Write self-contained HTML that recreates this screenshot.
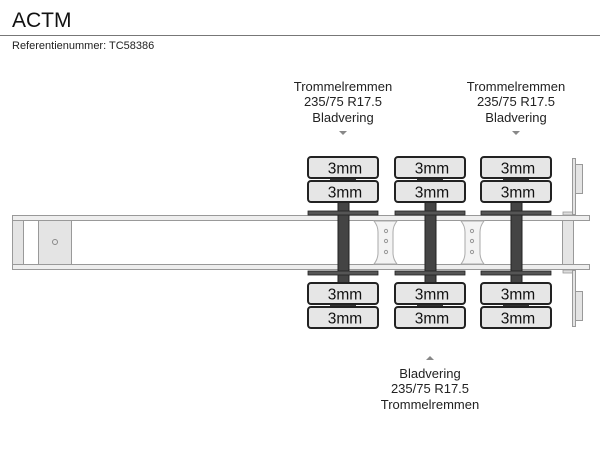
<!DOCTYPE html>
<html><head><meta charset="utf-8"><style>
body{margin:0;background:#fff;}
svg{display:block;font-family:"Liberation Sans",Arial,sans-serif;}
</style></head><body>
<svg width="600" height="450" viewBox="0 0 600 450" xmlns="http://www.w3.org/2000/svg">
<text x="12" y="27" font-size="21" fill="#111">ACTM</text>
<line x1="0" y1="35.5" x2="600" y2="35.5" stroke="#777" stroke-width="1"/>
<text x="12" y="49" font-size="11" fill="#222">Referentienummer: TC58386</text>

<g font-size="13" fill="#222" text-anchor="middle">
<text x="343" y="91">Trommelremmen</text>
<text x="343" y="106">235/75 R17.5</text>
<text x="343" y="122">Bladvering</text>
<text x="516" y="91">Trommelremmen</text>
<text x="516" y="106">235/75 R17.5</text>
<text x="516" y="122">Bladvering</text>
<text x="430" y="378">Bladvering</text>
<text x="430" y="393">235/75 R17.5</text>
<text x="430" y="409">Trommelremmen</text>
</g>
<polygon points="339,131 347,131 343,135" fill="#888"/>
<polygon points="512,131 520,131 516,135" fill="#888"/>
<polygon points="426,360 434,360 430,356" fill="#888"/>

<!-- frame -->
<rect x="12.5" y="215.5" width="577" height="5" fill="#eee" stroke="#999"/>
<rect x="12.5" y="264.5" width="577" height="5" fill="#eee" stroke="#999"/>
<rect x="12.5" y="220.5" width="11" height="44" fill="#e4e4e4" stroke="#999"/>
<rect x="38.5" y="220.5" width="33" height="44" fill="#e4e4e4" stroke="#999"/>
<circle cx="55" cy="242" r="2.5" fill="none" stroke="#888"/>

<!-- spacers -->
<g fill="#f3f3f3" stroke="#aaa" stroke-width="1">
<path d="M374,221 L397,221 Q393,226 393,232 L393,253 Q393,259 397,264 L374,264 Q378,259 378,253 L378,232 Q378,226 374,221 Z"/>
<path d="M461,221 L484,221 Q480,226 480,232 L480,253 Q480,259 484,264 L461,264 Q465,259 465,253 L465,232 Q465,226 461,221 Z"/>
</g>
<g fill="none" stroke="#999">
<circle cx="386" cy="231" r="1.6"/><circle cx="386" cy="241" r="1.6"/><circle cx="386" cy="252" r="1.6"/>
<circle cx="472" cy="231" r="1.6"/><circle cx="472" cy="241" r="1.6"/><circle cx="472" cy="252" r="1.6"/>
</g>

<!-- right end -->
<rect x="562.5" y="220.5" width="11" height="44" fill="#e4e4e4" stroke="#999"/>
<rect x="563" y="212" width="10" height="3" fill="#ddd" stroke="#999" stroke-width="0.8"/>
<rect x="563" y="270" width="10" height="3" fill="#ddd" stroke="#999" stroke-width="0.8"/>
<rect x="572.5" y="158.5" width="3" height="56" fill="#e4e4e4" stroke="#999"/>
<rect x="572.5" y="270.5" width="3" height="56" fill="#e4e4e4" stroke="#999"/>
<rect x="575.5" y="164.5" width="7" height="29" fill="#e4e4e4" stroke="#999"/>
<rect x="575.5" y="291.5" width="7" height="29" fill="#e4e4e4" stroke="#999"/>

<!-- axles -->
<g id="ax">
<rect x="338" y="202" width="11" height="81" fill="#444" stroke="#222"/>
<rect x="308" y="211" width="70" height="4" fill="#555" stroke="#222" stroke-width="0.8"/>
<rect x="308" y="271" width="70" height="4" fill="#555" stroke="#222" stroke-width="0.8"/>
<rect x="330" y="178" width="26" height="3" fill="#333"/>
<rect x="330" y="304" width="26" height="3" fill="#333"/>
<g fill="#e6e6e6" stroke="#222" stroke-width="2">
<rect x="308" y="157" width="70" height="21" rx="3"/>
<rect x="308" y="181" width="70" height="21" rx="3"/>
<rect x="308" y="283" width="70" height="21" rx="3"/>
<rect x="308" y="307" width="70" height="21" rx="3"/>
</g>
<g font-size="15.5" fill="#111" text-anchor="middle">
<text x="345" y="173.5">3mm</text>
<text x="345" y="197.5">3mm</text>
<text x="345" y="299.5">3mm</text>
<text x="345" y="323.5">3mm</text>
</g>
</g>
<use href="#ax" x="87"/>
<use href="#ax" x="173"/>
</svg>
</body></html>
